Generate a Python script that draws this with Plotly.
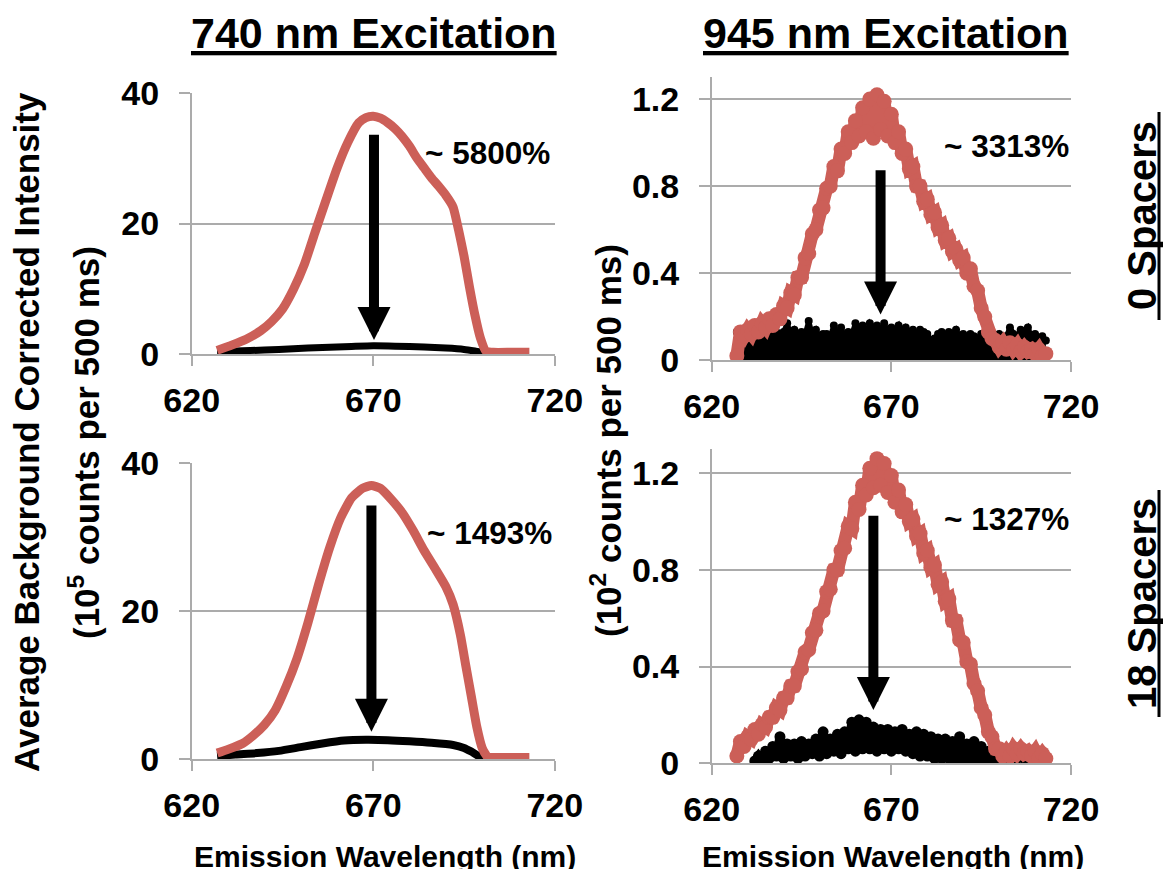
import plotly.graph_objects as go

RED = '#CC5F58'
GRID = '#ABABAB'
FONT = 'Liberation Sans, Arial, sans-serif'

X_TICKS = [620, 670, 720]
Y_TICKS_740 = [0, 20, 40]
Y_TICKS_945 = [0, 0.4, 0.8, 1.2]
Y_TEXT_945 = ['0', '0.4', '0.8', '1.2']

# ---------- 740 nm excitation, 0 spacers (top-left) ----------
tl_red_x = [627, 631, 635, 639, 642, 645, 648, 651, 654, 657, 660, 663, 666, 668, 670, 672, 674, 676,
            678, 680, 682, 684, 686, 688, 690, 692, 693.5, 695, 696.5, 698, 699.5, 701, 703, 708, 713]
tl_red_y = [0.6, 1.4, 2.3, 3.6, 5.0, 6.9, 9.9, 13.7, 18.7, 23.6, 28.4, 32.4, 35.4, 36.2, 36.4, 36.1, 35.4, 34.5,
            33.3, 31.8, 30.0, 28.5, 27.0, 25.7, 24.3, 22.5, 19.0, 15.0, 10.3, 6.0, 2.5, 0.5, 0.3, 0.3, 0.3]
tl_blk_x = [627, 632, 640, 648, 656, 664, 670, 676, 684, 690, 695, 698, 700, 701]
tl_blk_y = [0.4, 0.5, 0.65, 0.85, 1.05, 1.2, 1.3, 1.25, 1.1, 0.95, 0.75, 0.5, 0.3, 0.2]

# ---------- 740 nm excitation, 18 spacers (bottom-left) ----------
bl_red_x = [627, 630, 634, 637, 640, 643, 646, 649, 652, 655, 658, 661, 664, 667, 669.5, 672, 675, 678,
            681, 684, 687, 690, 692, 694, 695.5, 697, 698.5, 700, 701.5, 705, 713]
bl_red_y = [0.8, 1.3, 2.1, 3.2, 4.6, 6.6, 9.8, 13.6, 18.4, 23.7, 28.6, 32.6, 35.3, 36.6, 37.0, 36.6, 35.1, 33.3,
            30.9, 28.2, 25.8, 23.3, 20.9, 16.8, 12.6, 8.5, 4.4, 1.5, 0.3, 0.2, 0.2]
bl_blk_x = [627, 632, 638, 644, 650, 656, 662, 668, 674, 680, 686, 692, 695, 697, 699, 700.5]
bl_blk_y = [0.4, 0.6, 0.8, 1.1, 1.6, 2.1, 2.5, 2.6, 2.55, 2.4, 2.2, 1.9, 1.5, 1.0, 0.4, 0.15]

# ---------- 945 nm excitation (noisy spectra, 1 nm steps 627..713) ----------
wl_945 = list(range(627, 714))
tr_red_y = [0.02, 0.13, 0.11, 0.14, 0.12, 0.16, 0.13, 0.17, 0.15, 0.19, 0.16, 0.21, 0.19, 0.25, 0.24, 0.31,
            0.30, 0.38, 0.38, 0.47, 0.49, 0.58, 0.60, 0.69, 0.70, 0.79, 0.80, 0.89, 0.87, 0.97, 0.95, 1.05,
            1.00, 1.10, 1.03, 1.16, 1.05, 1.20, 1.02, 1.22, 1.06, 1.19, 1.03, 1.13, 1.00, 1.05, 0.95, 0.97,
            0.88, 0.89, 0.80, 0.80, 0.73, 0.74, 0.67, 0.68, 0.61, 0.62, 0.55, 0.56, 0.50, 0.51, 0.46, 0.47,
            0.40, 0.42, 0.34, 0.32, 0.24, 0.20, 0.13, 0.10, 0.09, 0.06, 0.08, 0.05, 0.08, 0.05, 0.07, 0.04,
            0.06, 0.04, 0.05, 0.03, 0.05, 0.02, 0.03]
tr_blk_y = [0.13, 0.14, 0.13, 0.15, 0.13, 0.14, 0.12, 0.15, 0.13, 0.14, 0.12, 0.13, 0.11, 0.13, 0.17, 0.12,
            0.14, 0.11, 0.13, 0.12, 0.18, 0.12, 0.14, 0.11, 0.12, 0.12, 0.11, 0.16, 0.12, 0.15, 0.11, 0.13,
            0.12, 0.17, 0.15, 0.16, 0.13, 0.17, 0.15, 0.16, 0.14, 0.17, 0.13, 0.15, 0.14, 0.16, 0.12, 0.15,
            0.13, 0.14, 0.12, 0.14, 0.13, 0.12, 0.09, 0.10, 0.12, 0.13, 0.11, 0.13, 0.12, 0.14, 0.11, 0.12,
            0.10, 0.12, 0.11, 0.10, 0.12, 0.10, 0.09, 0.11, 0.10, 0.12, 0.09, 0.11, 0.15, 0.12, 0.10, 0.14,
            0.13, 0.15, 0.11, 0.12, 0.10, 0.11, 0.09]
br_red_y = [0.03, 0.09, 0.07, 0.11, 0.10, 0.14, 0.12, 0.16, 0.15, 0.19, 0.19, 0.23, 0.22, 0.27, 0.27, 0.32,
            0.32, 0.38, 0.39, 0.46, 0.47, 0.54, 0.55, 0.62, 0.63, 0.71, 0.72, 0.80, 0.80, 0.88, 0.89, 0.98,
            0.97, 1.08, 1.05, 1.15, 1.11, 1.22, 1.14, 1.26, 1.15, 1.24, 1.12, 1.19, 1.08, 1.13, 1.04, 1.07,
            1.00, 1.01, 0.94, 0.95, 0.87, 0.88, 0.81, 0.82, 0.74, 0.75, 0.67, 0.68, 0.59, 0.59, 0.51, 0.50,
            0.42, 0.41, 0.33, 0.30, 0.23, 0.20, 0.13, 0.11, 0.06, 0.06, 0.03, 0.05, 0.03, 0.06, 0.04, 0.06,
            0.04, 0.05, 0.03, 0.05, 0.02, 0.04, 0.02]
wl_945_br_blk = list(range(632, 714))
br_blk_y = [0.01, 0.03, 0.01, 0.05, 0.02, 0.07, 0.03, 0.11, 0.02, 0.08, 0.03, 0.08, 0.02, 0.09, 0.03, 0.08,
            0.04, 0.10, 0.03, 0.13, 0.04, 0.10, 0.05, 0.12, 0.04, 0.13, 0.06, 0.17, 0.05, 0.18, 0.06, 0.17,
            0.06, 0.15, 0.05, 0.14, 0.06, 0.14, 0.05, 0.13, 0.06, 0.14, 0.05, 0.12, 0.04, 0.13, 0.03, 0.12,
            0.03, 0.11, 0.02, 0.10, 0.02, 0.10, 0.02, 0.09, 0.01, 0.11, 0.02, 0.08, 0.01, 0.09, 0.01, 0.07,
            0.01, 0.05, 0.01, 0.02, 0.01, 0.02, 0.01, 0.02, 0.03, 0.02, 0.03, 0.02, 0.04, 0.02, 0.03, 0.02,
            0.03, 0.02]

# enhancement labels and arrows (x, tip y, tail y)
enh_text = ['~ 5800%', '~ 3313%', '~ 1493%', '~ 1327%']
arrows = [('x', 'y', 670.2, 2.2, 33.8), ('x2', 'y2', 667.0, 0.21, 0.88),
          ('x3', 'y3', 669.5, 3.7, 34.5), ('x4', 'y4', 665.0, 0.22, 1.03)]
row_labels = ['0 Spacers', '18 Spacers']

fig = go.Figure()

# top-left
fig.add_trace(go.Scatter(x=tl_blk_x, y=tl_blk_y, xaxis='x', yaxis='y', mode='lines',
                         line=dict(color='black', width=7, shape='spline', smoothing=0.6)))
fig.add_trace(go.Scatter(x=tl_red_x, y=tl_red_y, xaxis='x', yaxis='y', mode='lines',
                         line=dict(color=RED, width=9, shape='spline', smoothing=0.5)))
# top-right
fig.add_trace(go.Scatter(x=wl_945, y=tr_blk_y, xaxis='x2', yaxis='y2', mode='lines+markers',
                         fill='tozeroy', fillcolor='black',
                         line=dict(color='black', width=5), marker=dict(color='black', size=8)))
fig.add_trace(go.Scatter(x=wl_945, y=tr_red_y, xaxis='x2', yaxis='y2', mode='lines+markers',
                         line=dict(color=RED, width=13), marker=dict(color=RED, size=15)))
# bottom-left
fig.add_trace(go.Scatter(x=bl_blk_x, y=bl_blk_y, xaxis='x3', yaxis='y3', mode='lines',
                         line=dict(color='black', width=8, shape='spline', smoothing=0.6)))
fig.add_trace(go.Scatter(x=bl_red_x, y=bl_red_y, xaxis='x3', yaxis='y3', mode='lines',
                         line=dict(color=RED, width=9, shape='spline', smoothing=0.5)))
# bottom-right
fig.add_trace(go.Scatter(x=wl_945_br_blk, y=br_blk_y, xaxis='x4', yaxis='y4', mode='lines+markers',
                         line=dict(color='black', width=9), marker=dict(color='black', size=11)))
fig.add_trace(go.Scatter(x=wl_945, y=br_red_y, xaxis='x4', yaxis='y4', mode='lines+markers',
                         line=dict(color=RED, width=13), marker=dict(color=RED, size=15)))

W, H = 1163, 869
tickfont = dict(family=FONT, size=34, color='black', weight='bold')


def xax(domain, anchor):
    return dict(domain=domain, anchor=anchor, range=[620, 720], tickvals=X_TICKS,
                showgrid=False, zeroline=False, showline=True, linecolor=GRID, linewidth=1.5,
                ticks='outside', ticklen=10, tickwidth=1.5, tickcolor=GRID, automargin=False,
                tickfont=tickfont, ticklabelstandoff=5, fixedrange=True)


def yax(domain, anchor, rng, tv, tt=None):
    d = dict(domain=domain, anchor=anchor, range=rng, tickvals=tv,
             showgrid=True, gridcolor=GRID, gridwidth=1.5, zeroline=False,
             showline=True, linecolor=GRID, linewidth=1.5, automargin=False,
             ticks='outside', ticklen=11, tickwidth=1.5, tickcolor=GRID,
             tickfont=tickfont, ticklabelstandoff=13, fixedrange=True)
    if tt:
        d['ticktext'] = tt
    return d


def px(xp):
    return xp / W


def py(yp):
    return 1 - yp / H


layout = dict(
    width=W, height=H, margin=dict(l=0, r=0, t=0, b=0, autoexpand=False),
    paper_bgcolor='white', plot_bgcolor='white', showlegend=False,
    xaxis=xax([px(191.7), px(554.8)], 'y'),
    yaxis=yax([py(354.3), py(92.7)], 'x', [0, 40], Y_TICKS_740),
    xaxis2=xax([px(711.7), px(1071)], 'y2'),
    yaxis2=yax([py(360.2), py(77.3)], 'x2', [0, 1.3], Y_TICKS_945, Y_TEXT_945),
    xaxis3=xax([px(191.7), px(554.8)], 'y3'),
    yaxis3=yax([py(759), py(463.3)], 'x3', [0, 40], Y_TICKS_740),
    xaxis4=xax([px(711.7), px(1071)], 'y4'),
    yaxis4=yax([py(763.3), py(449)], 'x4', [0, 1.3], Y_TICKS_945, Y_TEXT_945),
)

ann = []


def text(t, x, y, size, angle=0, xanchor='center'):
    ann.append(dict(text=t, x=px(x), y=py(y), xref='paper', yref='paper', showarrow=False,
                    xanchor=xanchor, yanchor='middle', textangle=angle,
                    font=dict(family=FONT, size=size, color='black', weight='bold')))


text('<u>740 nm Excitation</u>', 374, 33, 43)
text('<u>945 nm Excitation</u>', 886, 33, 43)
text(enh_text[0], 552, 153, 31.5, xanchor='right')
text(enh_text[1], 1071, 146, 31.5, xanchor='right')
text(enh_text[2], 554, 533, 31.5, xanchor='right')
text(enh_text[3], 1071, 519, 31.5, xanchor='right')
text('Average Background Corrected Intensity', 26, 432, 35, angle=-90)
text('(10<sup>5</sup> counts per 500 ms)', 84, 443, 35, angle=-90)
text('(10<sup>2</sup> counts per 500 ms)', 606, 441, 35, angle=-90)
text(row_labels[0], 1142, 216, 40, angle=-90)
text(row_labels[1], 1142, 604, 40, angle=-90)
text('Emission Wavelength (nm)', 385, 856, 30)
text('Emission Wavelength (nm)', 893, 856, 30)

for xr, yr, xa, ytip, ytail in arrows:
    ann.append(dict(xref=xr, yref=yr, axref=xr, ayref=yr, x=xa, y=ytip, ax=xa, ay=ytail,
                    showarrow=True, arrowhead=2, arrowsize=0.66, arrowwidth=10,
                    arrowcolor='black', text='', standoff=0))

# underlines of the rotated row labels
shapes = []
for y_top, y_bot in [(112, 320), (490, 717)]:
    shapes.append(dict(type='line', xref='paper', yref='paper', x0=px(1159), x1=px(1159),
                       y0=py(y_top), y1=py(y_bot), line=dict(color='black', width=3)))

layout['annotations'] = ann
layout['shapes'] = shapes
fig.update_layout(**layout)
fig.write_html('out.html',
               config={'displayModeBar': False},
               post_script="document.body.style.margin='0px';"
                           "document.body.style.overflow='hidden';"
                           "document.documentElement.style.overflow='hidden';")
